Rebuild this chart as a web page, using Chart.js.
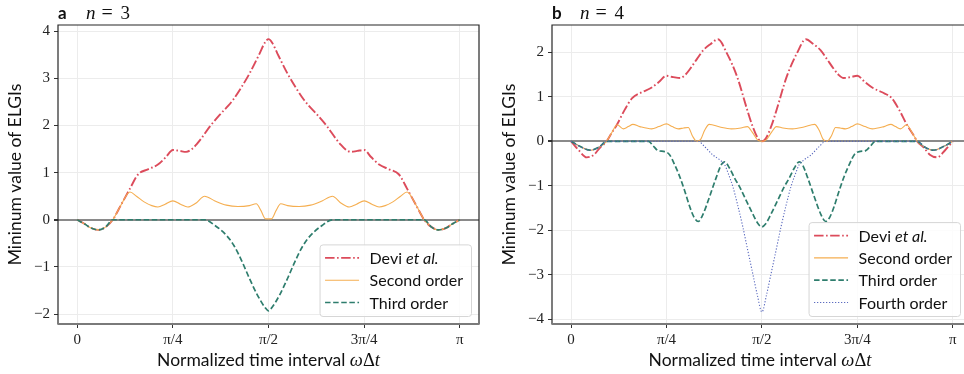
<!DOCTYPE html>
<html>
<head>
<meta charset="utf-8">
<script src="https://cdn.jsdelivr.net/npm/chart.js@4.4.1/dist/chart.umd.min.js"></script>
<style>
html,body{margin:0;padding:0;background:#fff;overflow:hidden;width:964px;height:374px;}
#wrap{position:relative;width:964px;height:374px;overflow:hidden;}
canvas{position:absolute;top:0;}
#ca{left:0;}
#cb{left:494px;}
</style>
</head>
<body>
<div id="wrap">
<canvas id="ca" width="482" height="374"></canvas>
<canvas id="cb" width="477" height="374"></canvas>
</div>
<script>
// ---------- shared axis data (x in units of pi) ----------
const tickVals = [0, 0.25, 0.5, 0.75, 1];
const tickLabels = ['0', 'π/4', 'π/2', '3π/4', 'π'];
const seriesLabels = ['Devi et al.', 'Second order', 'Third order', 'Fourth order'];

// ---------- panel a (n = 3) ----------
const aDeviX = [0,0.02,0.035,0.056,0.075,0.093,0.115,0.138,0.159,0.185,0.211,0.232,0.25,0.268,0.285,0.3,0.312,0.324,0.347,0.373,0.395,0.408,0.43,0.451,0.477,0.49,
  0.5,
  0.51,0.523,0.549,0.57,0.592,0.605,0.627,0.653,0.676,0.688,0.7,0.715,0.732,0.75,0.768,0.789,0.815,0.841,0.862,0.885,0.907,0.925,0.944,0.965,0.98,1];
const aDeviY = [0,-0.09,-0.17,-0.215,-0.15,0,0.32,0.66,0.96,1.07,1.17,1.33,1.48,1.46,1.44,1.5,1.6,1.72,1.98,2.23,2.42,2.55,2.82,3.11,3.53,3.75,
  3.83,
  3.75,3.53,3.11,2.82,2.55,2.42,2.23,1.98,1.72,1.6,1.5,1.44,1.46,1.48,1.33,1.17,1.07,0.96,0.66,0.32,0,-0.15,-0.215,-0.17,-0.09,0];

const aSecondX = [0,0.02,0.035,0.056,0.075,0.093,0.115,0.138,0.155,0.175,0.195,0.211,0.23,0.25,0.27,0.289,0.31,0.333,0.36,0.39,0.42,0.45,0.468,0.48,0.492,
  0.5,
  0.508,0.52,0.532,0.55,0.58,0.61,0.64,0.667,0.69,0.711,0.73,0.75,0.77,0.789,0.805,0.825,0.845,0.862,0.885,0.907,0.925,0.944,0.965,0.98,1];
const aSecondY = [0,-0.09,-0.17,-0.215,-0.15,0,0.32,0.59,0.5,0.38,0.3,0.27,0.33,0.4,0.33,0.27,0.35,0.5,0.4,0.31,0.28,0.3,0.34,0.2,0.02,
  0.02,
  0.02,0.2,0.34,0.3,0.28,0.31,0.4,0.5,0.35,0.27,0.33,0.4,0.33,0.27,0.3,0.38,0.5,0.59,0.32,0,-0.15,-0.215,-0.17,-0.09,0];

const aThirdX = [0,0.02,0.035,0.056,0.075,0.093,0.333,0.36,0.39,0.41,0.43,0.45,0.47,0.49,
  0.5,
  0.51,0.53,0.55,0.57,0.59,0.61,0.64,0.667,0.907,0.925,0.944,0.965,0.98,1];
const aThirdY = [0,-0.09,-0.17,-0.215,-0.15,0,0,-0.12,-0.33,-0.55,-0.87,-1.24,-1.58,-1.85,
  -1.93,
  -1.85,-1.58,-1.24,-0.87,-0.55,-0.33,-0.12,0,0,-0.15,-0.215,-0.17,-0.09,0];

const aYTicks = [-2,-1,0,1,2,3,4];

// ---------- panel b (n = 4) ----------
const bDeviX = [0,0.02,0.041,0.06,0.075,0.093,0.105,0.12,0.14,0.16,0.185,0.208,0.23,0.25,0.268,0.286,0.3,0.313,0.33,0.347,0.365,0.385,0.408,0.435,0.461,0.475,0.49,
  0.5,
  0.51,0.525,0.539,0.565,0.592,0.615,0.635,0.653,0.67,0.687,0.7,0.714,0.732,0.75,0.77,0.792,0.815,0.84,0.86,0.88,0.895,0.907,0.925,0.94,0.959,0.98,1];
const bDeviY = [0,-0.2,-0.36,-0.3,-0.15,0,0.17,0.37,0.7,0.97,1.1,1.19,1.33,1.47,1.44,1.42,1.5,1.64,1.85,2.05,2.18,2.29,1.98,1.45,0.72,0.35,0.06,
  0,
  0.06,0.35,0.72,1.45,1.98,2.29,2.18,2.05,1.85,1.64,1.5,1.42,1.44,1.47,1.33,1.19,1.1,0.97,0.7,0.37,0.17,0,-0.15,-0.3,-0.36,-0.2,0];

const bSecondX = [0,0.02,0.05,0.075,0.093,0.105,0.121,0.137,0.15,0.162,0.18,0.211,0.23,0.25,0.265,0.281,0.295,0.307,0.318,0.329,0.34,0.35,0.362,0.39,0.42,0.445,0.462,0.475,0.49,
  0.5,
  0.51,0.525,0.538,0.555,0.58,0.61,0.638,0.65,0.66,0.671,0.682,0.693,0.705,0.719,0.735,0.75,0.77,0.789,0.82,0.838,0.85,0.863,0.879,0.895,0.907,0.925,0.95,0.98,1];
const bSecondY = [0,-0.1,-0.2,-0.12,0,0.17,0.37,0.28,0.33,0.38,0.33,0.28,0.33,0.39,0.33,0.28,0.3,0.31,0.12,0,0.05,0.25,0.38,0.32,0.28,0.3,0.33,0.2,0.02,
  0,
  0.02,0.2,0.33,0.3,0.28,0.32,0.38,0.25,0.05,0,0.12,0.31,0.3,0.28,0.33,0.39,0.33,0.28,0.33,0.38,0.33,0.28,0.37,0.17,0,-0.12,-0.2,-0.1,0];

const bThirdX = [0,0.02,0.05,0.075,0.093,0.203,0.215,0.228,0.245,0.258,0.27,0.285,0.298,0.311,0.322,0.333,0.345,0.363,0.38,0.394,0.402,0.415,0.428,0.442,0.46,0.476,0.49,
  0.5,
  0.51,0.524,0.54,0.558,0.572,0.585,0.598,0.606,0.62,0.637,0.655,0.667,0.678,0.689,0.702,0.715,0.73,0.742,0.755,0.772,0.785,0.797,0.907,0.925,0.95,0.98,1];
const bThirdY = [0,-0.1,-0.2,-0.12,0,0,-0.1,-0.21,-0.23,-0.3,-0.5,-0.8,-1.12,-1.47,-1.7,-1.8,-1.65,-1.24,-0.82,-0.52,-0.46,-0.6,-0.82,-1.03,-1.35,-1.63,-1.85,
  -1.92,
  -1.85,-1.63,-1.35,-1.03,-0.82,-0.6,-0.46,-0.52,-0.82,-1.24,-1.65,-1.8,-1.7,-1.47,-1.12,-0.8,-0.5,-0.3,-0.23,-0.21,-0.1,0,0,-0.12,-0.2,-0.1,0];

const bFourthX = [0,0.02,0.05,0.075,0.093,0.333,0.35,0.372,0.39,0.402,0.413,0.424,0.437,0.45,0.463,0.476,0.488,
  0.5,
  0.512,0.524,0.537,0.55,0.563,0.576,0.587,0.598,0.61,0.628,0.65,0.667,0.907,0.925,0.95,0.98,1];
const bFourthY = [0,-0.1,-0.2,-0.12,0,0,-0.12,-0.31,-0.42,-0.52,-0.75,-1.02,-1.45,-1.92,-2.45,-2.97,-3.45,
  -3.83,
  -3.45,-2.97,-2.45,-1.92,-1.45,-1.02,-0.75,-0.52,-0.42,-0.31,-0.12,0,0,-0.12,-0.2,-0.1,0];

const bYTicks = [-4,-3,-2,-1,0,1,2];

// ---------- styles ----------
const COLORS = ['#dc4b5b', '#f5ae50', '#2e7d6d', '#5666bd'];
const DASHES = [[9.5,2.5,1.6,2.5], [], [5.5,2.6], [1.2,1.8]];
const WIDTHS = [1.9, 1.1, 1.7, 1.1];

const SANS = '"Lato", "Liberation Sans", sans-serif';
const SERIF = '"Liberation Serif", "DejaVu Serif", serif';

function zip(xs, ys){ return xs.map((x,i)=>({x:x, y:ys[i]})); }

function ds(i, xs, ys){
  return {
    label: seriesLabels[i],
    data: zip(xs, ys),
    borderColor: COLORS[i],
    backgroundColor: COLORS[i],
    borderWidth: WIDTHS[i],
    borderDash: DASHES[i],
    pointRadius: 0,
    fill: false,
    cubicInterpolationMode: 'monotone',
    order: 4 - i
  };
}

function fmtNum(v){ return v < 0 ? '\u2212' + Math.abs(v) : String(v); }

const panelPlugin = {
  id: 'panel',
  afterDraw(chart, args, opts){
    const ctx = chart.ctx, a = chart.chartArea;
    ctx.save();
    // frame
    ctx.strokeStyle = '#262626';
    ctx.lineWidth = 1.2;
    ctx.beginPath();
    ctx.moveTo(a.left, a.bottom);
    ctx.lineTo(a.left, a.top);
    ctx.lineTo(a.right, a.top);
    ctx.lineTo(a.right, a.bottom);
    ctx.stroke();
    ctx.strokeStyle = '#7a7a7a';
    ctx.lineWidth = 2;
    ctx.beginPath();
    ctx.moveTo(a.left - 0.6, a.bottom);
    ctx.lineTo(a.right + 0.6, a.bottom);
    ctx.stroke();

    ctx.fillStyle = '#111';
    // panel title
    ctx.textBaseline = 'alphabetic';
    ctx.textAlign = 'left';
    ctx.font = 'bold 17px ' + SANS;
    ctx.fillText(opts.letter, a.left, 18.5);
    ctx.font = 'italic 19px ' + SERIF;
    ctx.fillText('n', a.left + 28, 18.5);
    ctx.font = '20px ' + SERIF;
    ctx.fillText('=', a.left + 43.5, 18.5);
    ctx.font = '19px ' + SERIF;
    ctx.fillText(opts.n, a.left + 62.5, 18.5);

    // x title (mixed fonts)
    const parts = [
      ['Normalized time interval ', '17.5px ' + SANS],
      ['ω', 'italic 18.5px ' + SERIF],
      ['Δ', '18.5px ' + SERIF],
      ['t', 'italic 18.5px ' + SERIF]
    ];
    let tw = 0;
    parts.forEach(p => { ctx.font = p[1]; tw += ctx.measureText(p[0]).width; });
    let x = (a.left + a.right) / 2 - tw / 2;
    const yT = a.bottom + 42;
    parts.forEach(p => { ctx.font = p[1]; ctx.fillText(p[0], x, yT); x += ctx.measureText(p[0]).width; });

    // y title
    ctx.save();
    ctx.translate(a.left - 42.5, (a.top + a.bottom) / 2);
    ctx.rotate(-Math.PI / 2);
    ctx.textAlign = 'center';
    ctx.textBaseline = 'middle';
    ctx.font = '17.5px ' + SANS;
    ctx.fillText('Mininum value of ELGIs', 0, 0);
    ctx.restore();

    // legend
    const items = chart.data.datasets.map((d, i) => ({label: d.label, i: i}));
    const fontN = '16px ' + SANS, fontI = 'italic 16px ' + SANS;
    function labelParts(lbl){
      if (lbl.endsWith('et al.')) return [[lbl.slice(0, lbl.length - 6), fontN], ['et al.', fontI]];
      return [[lbl, fontN]];
    }
    let maxW = 0;
    items.forEach(it => {
      let w = 0;
      labelParts(it.label).forEach(p => { ctx.font = p[1]; w += ctx.measureText(p[0]).width; });
      it.w = w; maxW = Math.max(maxW, w);
    });
    const rowH = 22.3;
    const bw = 50 + maxW + 8;
    const bh = 13.5 * 2 + rowH * (items.length - 1);
    const bx = a.right - 8 - bw;
    const by = a.bottom - 8 - bh;
    ctx.fillStyle = 'rgba(255,255,255,0.82)';
    ctx.strokeStyle = '#d6d6d6';
    ctx.lineWidth = 1;
    ctx.beginPath();
    if (ctx.roundRect) ctx.roundRect(bx + 0.5, by + 0.5, bw, bh, 3); else ctx.rect(bx + 0.5, by + 0.5, bw, bh);
    ctx.fill();
    ctx.stroke();
    items.forEach((it, k) => {
      const cy = by + 13.5 + rowH * k;
      const d = chart.data.datasets[it.i];
      ctx.strokeStyle = d.borderColor;
      ctx.lineWidth = d.borderWidth;
      ctx.setLineDash(d.borderDash);
      ctx.beginPath();
      ctx.moveTo(bx + 5.5, cy);
      ctx.lineTo(bx + 39.5, cy);
      ctx.stroke();
      ctx.setLineDash([]);
      ctx.fillStyle = '#111';
      ctx.textBaseline = 'middle';
      ctx.textAlign = 'left';
      let tx = bx + 50;
      labelParts(it.label).forEach(p => { ctx.font = p[1]; ctx.fillText(p[0], tx, cy + 1); tx += ctx.measureText(p[0]).width; });
    });
    ctx.restore();
  }
};

function makeChart(id, datasets, yMin, yMax, yTicks, xMin, xMax, letter, n){
  return new Chart(document.getElementById(id), {
    type: 'line',
    data: { datasets: datasets },
    plugins: [panelPlugin],
    options: {
      responsive: false,
      animation: false,
      devicePixelRatio: 1,
      layout: { padding: { top: 25, right: 3, left: 0, bottom: 0 } },
      plugins: {
        legend: { display: false },
        tooltip: { enabled: false },
        title: { display: false },
        panel: { letter: letter, n: n }
      },
      scales: {
        x: {
          type: 'linear',
          min: xMin, max: xMax,
          afterBuildTicks: s => { s.ticks = tickVals.map(v => ({value: v})); },
          afterFit: s => { s.height = 50; },
          ticks: {
            callback: (v) => { const k = tickVals.indexOf(v); return k >= 0 ? tickLabels[k] : ''; },
            font: { family: SERIF, size: 15 },
            color: '#222',
            padding: 3,
            maxRotation: 0,
            autoSkip: false
          },
          grid: { color: '#ececec', lineWidth: 1, tickLength: 4, tickColor: '#333', drawTicks: true },
          border: { display: false }
        },
        y: {
          type: 'linear',
          min: yMin, max: yMax,
          afterBuildTicks: s => { s.ticks = yTicks.map(v => ({value: v})); },
          afterFit: s => { s.width = 58; },
          ticks: {
            callback: v => fmtNum(v),
            font: { family: SERIF, size: 15 },
            color: '#222',
            padding: 4
          },
          grid: {
            color: c => (c.tick && c.tick.value === 0) ? '#8a8a8a' : '#ececec',
            lineWidth: c => (c.tick && c.tick.value === 0) ? 2 : 1,
            tickLength: 4, tickColor: '#333', drawTicks: true
          },
          border: { display: false }
        }
      }
    }
  });
}

makeChart('ca', [
  ds(0, aDeviX, aDeviY),
  ds(1, aSecondX, aSecondY),
  ds(2, aThirdX, aThirdY)
], -2.21, 4.13, aYTicks, -0.05, 1.05, 'a', '3');

makeChart('cb', [
  ds(0, bDeviX, bDeviY),
  ds(1, bSecondX, bSecondY),
  ds(2, bThirdX, bThirdY),
  ds(3, bFourthX, bFourthY)
], -4.1, 2.61, bYTicks, -0.05, 1.04, 'b', '4');
</script>
</body>
</html>
